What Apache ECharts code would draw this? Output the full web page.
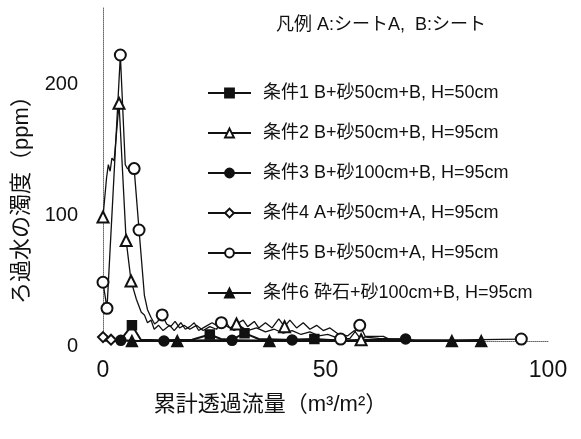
<!DOCTYPE html>
<html lang="ja">
<head>
<meta charset="UTF-8">
<title>ろ過水の濁度</title>
<script src="https://cdn.jsdelivr.net/npm/echarts@6/dist/echarts.min.js"></script>
<style>
  * { margin: 0; padding: 0; }
  body { background: #fff; }
  #box { width: 581px; height: 439px; }
</style>
</head>
<body>
<div id="box"></div>
<script>
  // 各条件の点 [累計透過流量, 濁度]
  const cond1Pts = [[2,0],[4,1],[6.5,12],[8.5,1],[13,0.5],[20,1],[24,5],[26.5,1.5],[29,1],[31.8,6],[35,1.5],[41,1],[47.5,1.5],[52,0.5]];
  const cond1Marks = [2, 6, 9, 12];

  const cond2Pts = [[0,95],[0.8,125],[1.2,135],[1.6,130],[2,140],[2.5,138],[3.6,182],[5.2,77],[6.3,46],[7.5,32],
    [8.6,22],[9.3,20],[10,14],[10.8,16],[11.5,9],[12.5,12],[13.5,8],[15,12],[16,8],[17.5,14],
    [18.5,9],[19.5,11],[20.5,14],[21.5,8],[23,11],[24.5,14],[26,11],[27.5,15],[28.5,10],[30,13],
    [31.5,16],[32.5,11],[34,15],[35,10],[36.5,14],[38,10],[39.5,17],[40.8,11],[42,16],[43.5,10],
    [45,14],[46.5,9],[48,12],[49.5,8],[51,10],[53,5],[55,4],[56.5,8],[58,1],[59,3.5],
    [63,3.5],[64.5,1],[70,0.5]];
  const cond2Marks = [0, 6, 7, 8, 29, 37, 48];

  const cond3Pts = [[0,0.5],[4,0.5],[8,0],[13.7,0],[20,0.3],[24,0.5],[29,0.5],[35,0.3],[42.5,0.8],[55,0.5],[68,1.5]];
  const cond3Marks = [1, 3, 6, 8, 10];

  const cond4Pts = [[0,3],[1.8,1],[4,0.3]];
  const cond4Marks = [0, 1];

  const cond5Pts = [[0,45],[0.9,25],[3.9,219],[5,135],[5.5,132],[7,132],[8.1,85],[9.3,35],[10,24],[10.8,18],
    [11.6,13],[12.3,15],[13.3,20],[14.3,13],[15.2,11],[16.2,15],[17.2,10],[18.2,12],[19.5,9],[21,12],
    [22.5,8],[24,11],[25.5,9],[26.6,14],[28,11],[29.5,8],[31,11],[32.5,8],[34.5,10],[36.5,7],
    [38.5,9],[40.5,6],[42.5,8],[44.5,5],[46.5,7],[48.5,4],[50.5,5],[53.4,1.5],[55.5,2],[57.7,12],
    [59,3],[62,2],[70,0.8],[80,0.8],[94,1.5]];
  const cond5Marks = [0, 1, 2, 5, 6, 12, 23, 37, 39, 44];

  const cond6Pts = [[6.5,0],[16.7,0],[37.4,0],[60,0],[78.4,0],[85,0]];
  const cond6Marks = [0, 1, 2, 4, 5];

  const names = [
    '条件1 B+砂50cm+B, H=50cm',
    '条件2 B+砂50cm+B, H=95cm',
    '条件3 B+砂100cm+B, H=95cm',
    '条件4 A+砂50cm+A, H=95cm',
    '条件5 B+砂50cm+A, H=95cm',
    '条件6 砕石+砂100cm+B, H=95cm'
  ];
  const xTicks = [0, 50, 100];
  const yTicks = [0, 100, 200];

  const font = '"Liberation Sans", "Noto Sans CJK JP", sans-serif';
  const ink = '#111';

  // 印のない点は symbol:none
  function build(pts, marks) {
    return pts.map(function (p, i) {
      return marks.indexOf(i) >= 0 ? { value: p } : { value: p, symbol: 'none' };
    });
  }

  function line(name, pts, marks, symbol, size, width) {
    return {
      name: name,
      type: 'line',
      data: build(pts, marks),
      symbol: symbol,
      symbolSize: size,
      showAllSymbol: true,
      color: ink,
      lineStyle: { color: ink, width: width },
      itemStyle: { color: ink, borderColor: ink, borderWidth: 1.5 }
    };
  }

  const option = {
    animation: false,
    title: {
      text: '凡例 A:シートA,  B:シート',
      left: 376,
      top: 11,
      textAlign: 'center',
      textStyle: { fontFamily: font, fontSize: 18, fontWeight: 'normal', color: ink }
    },
    legend: {
      orient: 'vertical',
      left: 202,
      top: 78,
      itemWidth: 43,
      itemHeight: 11,
      itemGap: 20,
      selectedMode: false,
      data: names,
      textStyle: { fontFamily: font, fontSize: 18, color: ink, lineHeight: 20, padding: [0, 0, 0, 7] }
    },
    grid: { left: 103, right: 33, top: 8, bottom: 98 },
    xAxis: {
      type: 'value',
      min: 0,
      max: 100,
      interval: 50,
      name: '累計透過流量（m³/m²）',
      nameLocation: 'middle',
      nameGap: 53,
      nameTextStyle: { fontFamily: font, fontSize: 22, color: ink, padding: [0, 110, 0, 0] },
      axisLine: { lineStyle: { color: '#666', width: 1, type: 'dotted' } },
      axisTick: { show: false },
      splitLine: { show: false },
      axisLabel: {
        margin: 18,
        fontFamily: font,
        fontSize: 23,
        color: ink,
        formatter: function (v) { return xTicks.indexOf(v) >= 0 ? String(v) : ''; }
      }
    },
    yAxis: {
      type: 'value',
      min: 0,
      max: 255,
      interval: 100,
      name: 'ろ過水の濁度（ppm）',
      nameLocation: 'middle',
      nameRotate: 90,
      nameGap: 70,
      nameTextStyle: { fontFamily: font, fontSize: 22, color: ink, padding: [0, 40, 0, 0] },
      axisLine: { show: true, lineStyle: { color: '#666', width: 1, type: 'dotted' } },
      axisTick: { show: false },
      splitLine: { show: false },
      axisLabel: {
        margin: 25,
        fontFamily: font,
        fontSize: 20,
        color: ink,
        showMaxLabel: false,
        verticalAlign: 'top',
        lineHeight: 10,
        formatter: function (v) { return yTicks.indexOf(v) >= 0 ? String(v) : ''; }
      }
    },
    series: [
      line(names[0], cond1Pts, cond1Marks, 'rect', 9, 2),
      line(names[1], cond2Pts, cond2Marks, 'emptyTriangle', 11, 1.3),
      line(names[2], cond3Pts, cond3Marks, 'circle', 10, 2),
      line(names[3], cond4Pts, cond4Marks, 'emptyDiamond', 10, 1.5),
      line(names[4], cond5Pts, cond5Marks, 'emptyCircle', 11, 1.3),
      line(names[5], cond6Pts, cond6Marks, 'triangle', 11, 2)
    ]
  };

  echarts.init(document.getElementById('box')).setOption(option);
</script>
</body>
</html>
